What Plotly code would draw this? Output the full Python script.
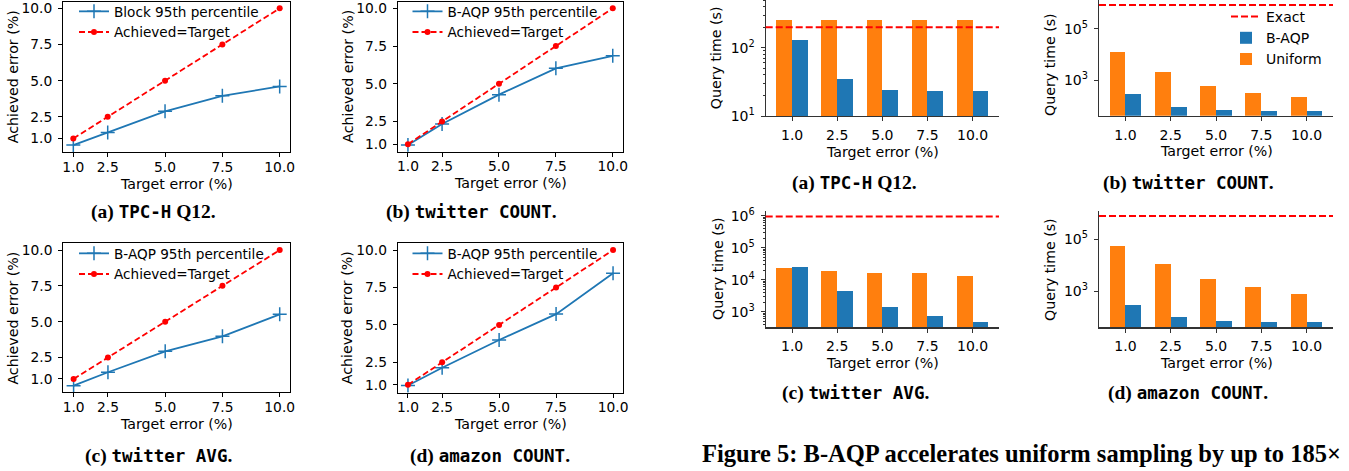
import plotly.graph_objects as go

W, H = 1349, 471

# ---------------- data ----------------
targets = [1.0, 2.5, 5.0, 7.5, 10.0]
target_labels = ["1.0", "2.5", "5.0", "7.5", "10.0"]
y_ticks = [1.0, 2.5, 5.0, 7.5, 10.0]
y_tick_labels = ["1.0", "2.5", "5.0", "7.5", "10.0"]

tpch_block_p95 = [0.55, 1.42, 2.88, 3.95, 4.60]
twitter_count_p95 = [0.95, 2.34, 4.28, 6.02, 6.85]
twitter_avg_p95 = [0.53, 1.47, 2.93, 3.98, 5.51]
amazon_count_p95 = [0.95, 2.14, 3.99, 5.72, 8.45]

tpch_uniform = [254, 254, 254, 254, 254]
tpch_baqp = [130, 34.8, 24, 23.2, 23.2]
tpch_exact = 199

twitter_count_uniform = [12300, 2050, 585, 311, 217]
twitter_count_baqp = [285, 88, 69.6, 63, 63]
twitter_count_exact = 8.6e5

twitter_avg_uniform = [22500, 18200, 15700, 15700, 12700]
twitter_avg_baqp = [24300, 4440, 1400, 733, 477]
twitter_avg_exact = 9.5e5

amazon_uniform = [55500, 11200, 2970, 1460, 790]
amazon_baqp = [297, 103, 72, 66, 66]
amazon_exact = 7.9e5

BLUE = "#1f77b4"
ORANGE = "#ff7f0e"
RED = "#ff0000"
FONT = "DejaVu Sans"
TICK = 13.8
TITLE = 14.2
LEG = 13.6


def dx(a, b):
    return [a / W, b / W]


def dy(top, bottom):
    return [1 - bottom / H, 1 - top / H]


fig = go.Figure()
layout = {}
annotations = []
shapes = []


def ann(x, y, text, size=TITLE, family=FONT, angle=0):
    annotations.append(dict(
        x=x / W, y=1 - y / H, xref="paper", yref="paper", text=text,
        showarrow=False, xanchor="center", yanchor="middle", textangle=angle,
        font=dict(size=size, family=family, color="black")))


def axname(i, a):
    return a if i == 1 else f"{a}{i}"


# ---------------- line panels ----------------
line_panels = [
    (1, tpch_block_p95, "Block 95th percentile", (63, 290, 1.5, 152), [0.07, 10.47], "legend", (74, -4)),
    (2, twitter_count_p95, "B-AQP 95th percentile", (397.7, 623, 1.5, 151.7), [0.50, 10.45], "legend2", (407.5, -4)),
    (3, twitter_avg_p95, "B-AQP 95th percentile", (63.3, 290, 243.3, 392.3), [0.07, 10.47], "legend3", (74, 238)),
    (4, amazon_count_p95, "B-AQP 95th percentile", (397.7, 623.3, 243.3, 392.7), [0.47, 10.45], "legend4", (407.5, 238)),
]

for i, vals, name, (x0, x1, y0, y1), yr, leg, (lx, ly) in line_panels:
    xa, ya = axname(i, "x"), axname(i, "y")
    fig.add_trace(go.Scatter(
        x=targets, y=vals, name=name, mode="lines+markers", xaxis=xa, yaxis=ya,
        line=dict(color=BLUE, width=1.8),
        marker=dict(symbol="cross-thin", size=10, line=dict(color=BLUE, width=1.5)),
        legend=leg))
    fig.add_trace(go.Scatter(
        x=targets, y=targets, name="Achieved=Target", mode="lines+markers", xaxis=xa, yaxis=ya,
        line=dict(color=RED, width=1.8, dash="6px,3px"),
        marker=dict(symbol="circle", size=6, color=RED),
        legend=leg))
    layout[axname(i, "xaxis")] = dict(
        domain=dx(x0, x1), anchor=ya, range=[0.55, 10.45], automargin=False,
        tickmode="array", tickvals=targets, ticktext=target_labels,
        ticks="outside", ticklen=4, tickcolor="black", ticklabelstandoff=-2,
        showline=True, mirror=True, linecolor="black", linewidth=1,
        showgrid=False, zeroline=False, tickfont=dict(size=TICK, family=FONT, color="black"))
    layout[axname(i, "yaxis")] = dict(
        domain=dy(y0, y1), anchor=xa, range=yr, automargin=False,
        tickmode="array", tickvals=y_ticks, ticktext=y_tick_labels,
        ticks="outside", ticklen=4, tickcolor="black", ticklabelstandoff=3,
        showline=True, mirror=True, linecolor="black", linewidth=1,
        showgrid=False, zeroline=False, tickfont=dict(size=TICK, family=FONT, color="black"))
    layout[leg] = dict(
        x=lx / W, y=1 - ly / H, xanchor="left", yanchor="top",
        bgcolor="rgba(0,0,0,0)", borderwidth=0, tracegroupgap=0,
        font=dict(size=LEG, family=FONT, color="black"), itemwidth=30)
    ann((x0 + x1) / 2, y1 + 31.5, "Target error (%)")
    ann(x0 - 50.5, (y0 + y1) / 2, "Achieved error (%)", angle=-90)

# ---------------- bar panels ----------------
bar_panels = [
    (5, tpch_uniform, tpch_baqp, tpch_exact, (765.7, 999, 0, 116), [1.0, 2.7], [1, 2], True),
    (6, twitter_count_uniform, twitter_count_baqp, twitter_count_exact, (1099, 1333, 0, 115.7), [1.62, 6.13], [3, 5], False),
    (7, twitter_avg_uniform, twitter_avg_baqp, twitter_avg_exact, (765.7, 999, 211, 327.3), [2.51, 6.15], [3, 4, 5, 6], True),
    (8, amazon_uniform, amazon_baqp, amazon_exact, (1099, 1333, 211, 327.3), [1.615, 6.09], [3, 5], False),
]

for i, uni, baqp, exact, (x0, x1, y0, y1), yr, decades, minor in bar_panels:
    xa, ya = axname(i, "x"), axname(i, "y")
    show = (i == 6)
    # legend order: Exact, B-AQP, Uniform
    fig.add_trace(go.Scatter(
        x=[None], y=[None], name="Exact", mode="lines", xaxis=xa, yaxis=ya,
        line=dict(color=RED, width=2, dash="7px,3px"), showlegend=show,
        legend="legend5", legendrank=1))
    fig.add_trace(go.Bar(
        x=target_labels, y=uni, name="Uniform", xaxis=xa, yaxis=ya,
        marker=dict(color=ORANGE, line=dict(width=0)), width=0.35, offset=-0.35,
        showlegend=show, legend="legend5", legendrank=3))
    fig.add_trace(go.Bar(
        x=target_labels, y=baqp, name="B-AQP", xaxis=xa, yaxis=ya,
        marker=dict(color=BLUE, line=dict(width=0)), width=0.35, offset=0.0,
        showlegend=show, legend="legend5", legendrank=2))
    shapes.append(dict(
        type="line", xref=f"{xa} domain", yref=ya, x0=0, x1=1,
        y0=exact, y1=exact,
        line=dict(color=RED, width=2, dash="7px,3px"), layer="above"))
    ax = dict(
        domain=dx(x0, x1), anchor=ya, type="category", range=[-0.585, 4.585], automargin=False,
        categoryorder="array", categoryarray=target_labels,
        ticks="outside", ticklen=4, tickcolor="#333", ticklabelstandoff=2,
        showline=True, mirror=False, linecolor="#333", linewidth=1.2,
        showgrid=False, zeroline=False, tickfont=dict(size=14, family=FONT, color="black"))
    layout[axname(i, "xaxis")] = ax
    ay = dict(
        domain=dy(y0, y1), anchor=xa, type="log", range=yr, automargin=False,
        tickmode="array", tickvals=[10 ** d for d in decades],
        ticktext=[f"10<sup>{d}</sup>" for d in decades],
        ticks="outside", ticklen=4, tickcolor="#333", ticklabelstandoff=3,
        showline=True, mirror=False, linecolor="#333", linewidth=1.2,
        showgrid=False, zeroline=False, tickfont=dict(size=14, family=FONT, color="black"))
    if minor:
        ay["minor"] = dict(ticks="outside", ticklen=2, tickcolor="#333", dtick="D1", showgrid=False)
    layout[axname(i, "yaxis")] = ay
    ann((x0 + x1) / 2, y1 + 35.5, "Target error (%)")

ann(716.7, 57.5, "Query time (s)", angle=-90)
ann(1050, 65, "Query time (s)", angle=-90)
ann(718, 269, "Query time (s)", angle=-90)
ann(1050, 270, "Query time (s)", angle=-90)

layout["legend5"] = dict(
    x=1226 / W, y=1 - 1 / H, xanchor="left", yanchor="top",
    bgcolor="rgba(0,0,0,0)", borderwidth=0, tracegroupgap=0,
    font=dict(size=14, family=FONT, color="black"), itemwidth=30)

# ---------------- captions ----------------
SERIF = "Liberation Serif"
MONO = "DejaVu Sans Mono"


def cap(letter, mono, tail):
    return (f"<b>({letter}) </b><span style=\"font-family:{MONO};font-size:17.5px\"><b>{mono}</b></span>"
            f"<b>{tail}</b>")


ann(153, 212, cap("a", "TPC-H", " Q12."), size=19.5, family=SERIF)
ann(471, 212, cap("b", "twitter COUNT", "."), size=19.5, family=SERIF)
ann(158, 456, cap("c", "twitter AVG", "."), size=19.5, family=SERIF)
ann(490, 456, cap("d", "amazon COUNT", "."), size=19.5, family=SERIF)
ann(854, 183, cap("a", "TPC-H", " Q12."), size=19.5, family=SERIF)
ann(1188, 183, cap("b", "twitter COUNT", "."), size=19.5, family=SERIF)
ann(855, 393, cap("c", "twitter AVG", "."), size=19.5, family=SERIF)
ann(1188, 393, cap("d", "amazon COUNT", "."), size=19.5, family=SERIF)
ann(1022, 453, "<b>Figure 5: B-AQP accelerates uniform sampling by up to 185×</b>", size=24.5, family=SERIF)

fig.update_layout(
    template="none",
    width=W, height=H, margin=dict(l=0, r=0, t=0, b=0, autoexpand=False),
    paper_bgcolor="white", plot_bgcolor="white",
    font=dict(family=FONT, size=13, color="black"),
    barmode="overlay", bargap=0, hovermode=False,
    annotations=annotations, shapes=shapes, **layout)

fig.write_html("out.html", config={"displayModeBar": False, "staticPlot": True},
               post_script="document.body.style.margin='0';")
